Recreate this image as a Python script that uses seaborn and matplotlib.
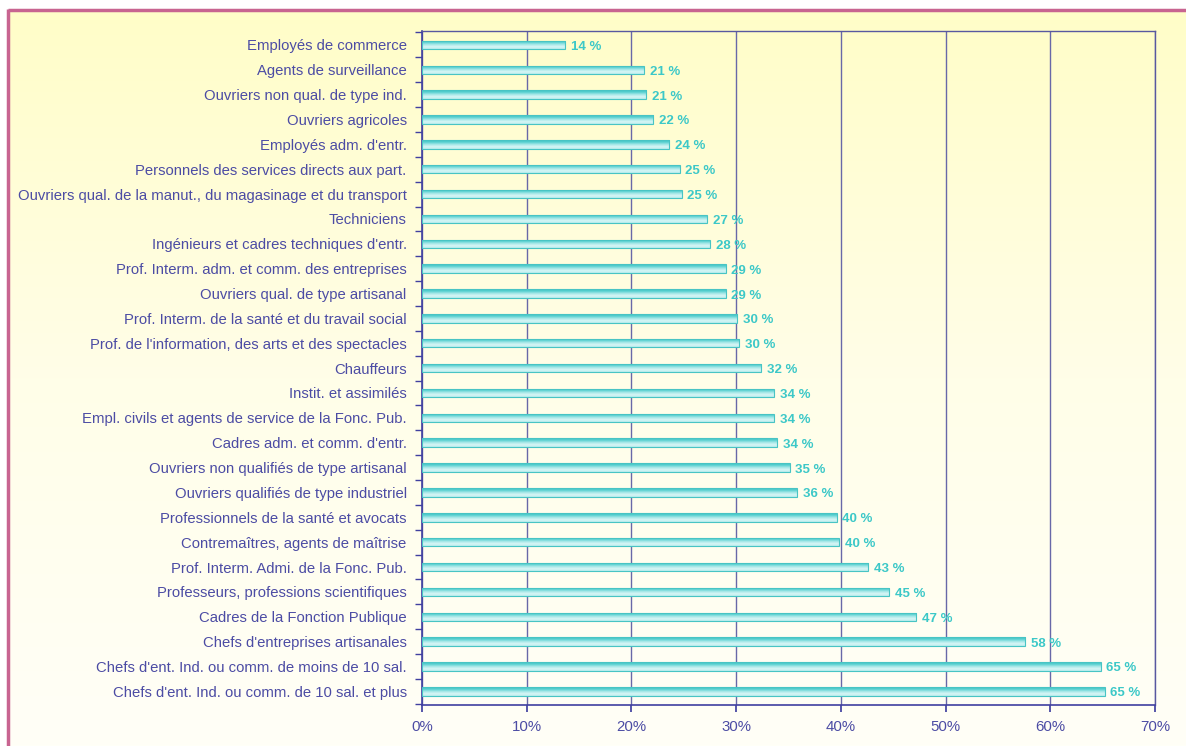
import matplotlib.pyplot as plt
import seaborn as sns
import pandas as pd
import numpy as np
from matplotlib.colors import LinearSegmentedColormap

categories = [
    "Employés de commerce",
    "Agents de surveillance",
    "Ouvriers non qual. de type ind.",
    "Ouvriers agricoles",
    "Employés adm. d'entr.",
    "Personnels des services directs aux part.",
    "Ouvriers qual. de la manut., du magasinage et du transport",
    "Techniciens",
    "Ingénieurs et cadres techniques d'entr.",
    "Prof. Interm. adm. et comm. des entreprises",
    "Ouvriers qual. de type artisanal",
    "Prof. Interm. de la santé et du travail social",
    "Prof. de l'information, des arts et des spectacles",
    "Chauffeurs",
    "Instit. et assimilés",
    "Empl. civils et agents de service de la Fonc. Pub.",
    "Cadres adm. et comm. d'entr.",
    "Ouvriers non qualifiés de type artisanal",
    "Ouvriers qualifiés de type industriel",
    "Professionnels de la santé et avocats",
    "Contremaîtres, agents de maîtrise",
    "Prof. Interm. Admi. de la Fonc. Pub.",
    "Professeurs, professions scientifiques",
    "Cadres de la Fonction Publique",
    "Chefs d'entreprises artisanales",
    "Chefs d'ent. Ind. ou comm. de moins de 10 sal.",
    "Chefs d'ent. Ind. ou comm. de 10 sal. et plus",
]
values = [13.7, 21.2, 21.4, 22.1, 23.6, 24.6, 24.8, 27.2, 27.5, 29.0, 29.0,
          30.1, 30.3, 32.4, 33.6, 33.6, 33.9, 35.1, 35.8, 39.6, 39.8, 42.6,
          44.6, 47.2, 57.6, 64.8, 65.2]

text_blue = "#4C4CA4"
grid_blue = "#6868A8"
cyan = "#3CC8C8"

data = pd.DataFrame({"categorie": categories, "part": values})

sns.set_theme(style="white")
plt.rcParams["font.family"] = ["Liberation Sans", "DejaVu Sans"]

fig = plt.figure(figsize=(11.86, 7.46), dpi=100)

# background: white margin, pink frame, yellow gradient
bg = fig.add_axes([0, 0, 1, 1], zorder=-10)
bg.axis("off")
bg_cmap = LinearSegmentedColormap.from_list("bg", ["#FFFDC8", "#FFFEE8", "#FFFFF7"])
grad = np.linspace(0, 1, 256).reshape(-1, 1)
bg.imshow(grad, cmap=bg_cmap, aspect="auto", extent=[9, 1186, 746, 11])
bg.plot([8, 1186], [10, 10], color="#C86490", lw=2.5, solid_capstyle="butt")
bg.plot([8, 8], [9, 746], color="#C86490", lw=2.5, solid_capstyle="butt")
bg.set_xlim(0, 1186)
bg.set_ylim(746, 0)

ax = fig.add_axes([422 / 1186, 1 - 705 / 746, (1155 - 422) / 1186, (705 - 31) / 746])
ax.patch.set_alpha(0)

sns.barplot(data=data, x="part", y="categorie", ax=ax, width=0.34,
            color=cyan, edgecolor="#48C4C4", linewidth=0.8, orient="h")

# gradient fill inside each bar
bar_cmap = LinearSegmentedColormap.from_list(
    "bar", ["#3CC4C4", "#5ED2D2", "#A8E8E8", "#D8F6F6", "#B8ECEC"])
bar_grad = np.linspace(0, 1, 64).reshape(-1, 1)
for p in ax.patches:
    x0, y0 = p.get_x(), p.get_y()
    w, h = p.get_width(), p.get_height()
    im = ax.imshow(bar_grad, cmap=bar_cmap, aspect="auto",
                   extent=[x0, x0 + w, y0 + h, y0], origin="upper", zorder=2)
    im.set_clip_path(p)
    p.set_facecolor("none")
    p.set_zorder(3)

for i, v in enumerate(values):
    ax.text(v + 0.55, i + 0.08, f"{int(v + 0.5)} %", va="center", ha="left",
            color=cyan, fontweight="bold", fontsize=9.5)

ax.set_xlim(0, 70)
ax.set_ylim(len(categories) - 0.45, -0.56)
ax.set_xticks(np.arange(0, 71, 10))
ax.set_xticklabels([f"{t}%" for t in range(0, 71, 10)])
ax.set_yticks(np.arange(-0.5, len(categories), 1), minor=True)
ax.set(xlabel="", ylabel="")

ax.grid(axis="x", color=grid_blue, lw=1)
ax.set_axisbelow(True)
ax.tick_params(axis="y", which="major", length=0, pad=11,
               labelsize=10.7, labelcolor=text_blue)
ax.tick_params(axis="y", which="minor", left=True, length=5,
               color="#4040A0", width=1)
ax.tick_params(axis="x", bottom=True, length=5, color="#4040A0",
               labelsize=10.8, labelcolor=text_blue, pad=6)
for side in ["left", "bottom"]:
    ax.spines[side].set_color("#4040A0")
    ax.spines[side].set_linewidth(1.2)
for side in ["top", "right"]:
    ax.spines[side].set_color("#5858A0")
    ax.spines[side].set_linewidth(1)

plt.savefig("out.png", dpi=100)
